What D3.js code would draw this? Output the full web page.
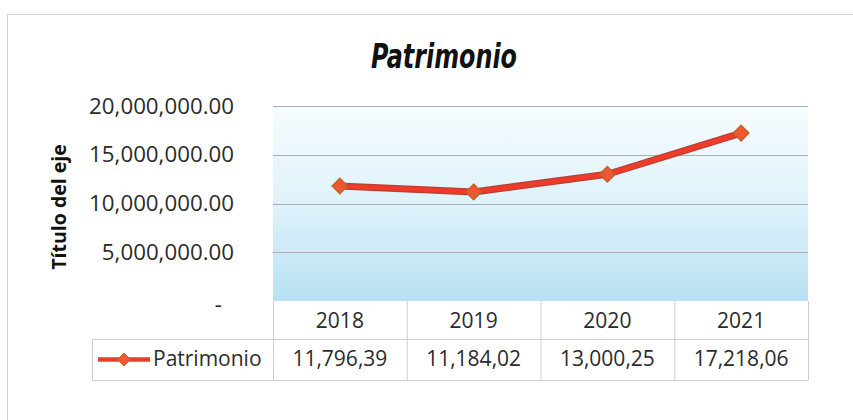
<!DOCTYPE html>
<html>
<head>
<meta charset="utf-8">
<script src="https://cdn.jsdelivr.net/npm/d3@7"></script>
<style>
  body { margin: 0; background: #fff; }
  svg { display: block; font-family: "Open Sans", sans-serif; }
</style>
</head>
<body>
<div id="chart"></div>
<script>
// data
var years = ["2018", "2019", "2020", "2021"];
var patrimonio = [11796390, 11184020, 13000250, 17218060];
var tableLabels = ["11,796,39", "11,184,02", "13,000,25", "17,218,06"];
var yTicks = [0, 5000000, 10000000, 15000000, 20000000];
var seriesName = "Patrimonio";

var W = 853, H = 420;
var plot = { left: 273, right: 808, top: 106, bottom: 301 };
var textCol = "#2b2b2b";

var svg = d3.select("#chart").append("svg")
    .attr("width", W)
    .attr("height", H);

// outer chart frame
svg.append("rect")
    .attr("x", 7.5).attr("y", 14.5)
    .attr("width", 860).attr("height", 420)
    .attr("fill", "none")
    .attr("stroke", "#d4d4d4");

var defs = svg.append("defs");
var grad = defs.append("linearGradient")
    .attr("id", "bg")
    .attr("x1", 0).attr("y1", 0).attr("x2", 0).attr("y2", 1);
grad.append("stop").attr("offset", "0%").attr("stop-color", "#f7fcfe");
grad.append("stop").attr("offset", "50%").attr("stop-color", "#def2fa");
grad.append("stop").attr("offset", "100%").attr("stop-color", "#b8e1f3");

var x = d3.scaleBand()
    .domain(years)
    .range([plot.left, plot.right]);

var y = d3.scaleLinear()
    .domain([0, 20000000])
    .range([plot.bottom, plot.top]);

// plot background
svg.append("rect")
    .attr("x", plot.left).attr("y", plot.top)
    .attr("width", plot.right - plot.left)
    .attr("height", plot.bottom - plot.top)
    .attr("fill", "url(#bg)");

// gridlines
svg.append("g")
    .selectAll("line")
    .data(yTicks.filter(function (d) { return d > 0; }))
    .enter()
    .append("line")
    .attr("x1", plot.left).attr("x2", plot.right)
    .attr("y1", function (d) { return Math.round(y(d)) + 0.5; })
    .attr("y2", function (d) { return Math.round(y(d)) + 0.5; })
    .attr("stroke", "#a9b0b4")
    .attr("stroke-width", 1);

// y axis labels
var fmt = d3.format(",.2f");
var yAxis = svg.append("g")
    .attr("transform", "translate(" + 234 + ",0)")
    .call(d3.axisLeft(y)
        .tickValues(yTicks)
        .tickSize(0)
        .tickPadding(0)
        .tickFormat(function (d) { return d === 0 ? "-" : fmt(d); }));
yAxis.select(".domain").remove();
yAxis.selectAll("text")
    .attr("font-family", "Open Sans, sans-serif")
    .attr("font-size", 22.3)
    .attr("fill", textCol);
yAxis.selectAll(".tick").filter(function (d) { return d === 0; })
    .select("text").attr("dx", -12).attr("dy", "0.45em");

// axis title
svg.append("text")
    .attr("transform", "translate(66," + 207 + ") rotate(-90)")
    .attr("text-anchor", "middle")
    .attr("font-size", 19.5)
    .attr("font-weight", "bold")
    .attr("fill", "#111")
    .text("Título del eje");

// chart title
svg.append("text")
    .attr("x", 444).attr("y", 68)
    .attr("text-anchor", "middle")
    .attr("font-family", "DejaVu Sans Condensed, sans-serif")
    .attr("font-size", 34)
    .attr("font-style", "italic")
    .attr("font-weight", 600)
    .attr("textLength", 146)
    .attr("lengthAdjust", "spacingAndGlyphs")
    .attr("fill", "#111")
    .text("Patrimonio");

// series line
var line = d3.line()
    .x(function (d, i) { return x(years[i]) + x.bandwidth() / 2; })
    .y(function (d) { return y(d); });

svg.append("path")
    .datum(patrimonio)
    .attr("fill", "none")
    .attr("stroke", "#b8402e")
    .attr("stroke-width", 7)
    .attr("stroke-linejoin", "round")
    .attr("d", line);
svg.append("path")
    .datum(patrimonio)
    .attr("fill", "none")
    .attr("stroke", "#ee3b2b")
    .attr("stroke-width", 4.5)
    .attr("stroke-linejoin", "round")
    .attr("d", line);

var diamond = d3.symbol().type(d3.symbolDiamond2).size(160);
svg.append("g")
    .selectAll("path")
    .data(patrimonio)
    .enter()
    .append("path")
    .attr("transform", function (d, i) {
        return "translate(" + (x(years[i]) + x.bandwidth() / 2) + "," + y(d) + ")";
    })
    .attr("d", diamond)
    .attr("fill", "#f0562f")
    .attr("stroke", "#b5672f")
    .attr("stroke-width", 1.2);

// data table
var tbl = svg.append("g");
var rowTop = 301, rowMid = 339, rowBot = 380, legLeft = 92;
var gridCol = "#cfcfcf";

years.forEach(function (yr) {
    var x0 = x(yr);
    tbl.append("line")
        .attr("x1", x0 + 0.5).attr("x2", x0 + 0.5)
        .attr("y1", rowTop).attr("y2", rowBot)
        .attr("stroke", gridCol);
});
tbl.append("line")
    .attr("x1", plot.right + 0.5).attr("x2", plot.right + 0.5)
    .attr("y1", rowTop).attr("y2", rowBot)
    .attr("stroke", gridCol);
tbl.append("line")
    .attr("x1", legLeft + 0.5).attr("x2", legLeft + 0.5)
    .attr("y1", rowMid).attr("y2", rowBot)
    .attr("stroke", gridCol);
tbl.append("line")
    .attr("x1", legLeft).attr("x2", plot.right)
    .attr("y1", rowMid + 0.5).attr("y2", rowMid + 0.5)
    .attr("stroke", gridCol);
tbl.append("line")
    .attr("x1", legLeft).attr("x2", plot.right)
    .attr("y1", rowBot + 0.5).attr("y2", rowBot + 0.5)
    .attr("stroke", gridCol);

tbl.selectAll("text.yr")
    .data(years)
    .enter()
    .append("text")
    .attr("class", "yr")
    .attr("x", function (d) { return x(d) + x.bandwidth() / 2; })
    .attr("y", 328)
    .attr("text-anchor", "middle")
    .attr("font-size", 21)
    .attr("fill", textCol)
    .text(function (d) { return d; });

tbl.selectAll("text.val")
    .data(tableLabels)
    .enter()
    .append("text")
    .attr("class", "val")
    .attr("x", function (d, i) { return x(years[i]) + x.bandwidth() / 2; })
    .attr("y", 366)
    .attr("text-anchor", "middle")
    .attr("font-size", 21)
    .attr("fill", textCol)
    .text(function (d) { return d; });

// legend key
tbl.append("line")
    .attr("x1", 98).attr("x2", 150)
    .attr("y1", 359.5).attr("y2", 359.5)
    .attr("stroke", "#e8402e")
    .attr("stroke-width", 4.5);
tbl.append("path")
    .attr("transform", "translate(124,359.5)")
    .attr("d", d3.symbol().type(d3.symbolDiamond2).size(110))
    .attr("fill", "#f0562f")
    .attr("stroke", "#b5672f")
    .attr("stroke-width", 1);
tbl.append("text")
    .attr("x", 153).attr("y", 366)
    .attr("font-size", 21)
    .attr("fill", textCol)
    .text(seriesName);
</script>
</body>
</html>
